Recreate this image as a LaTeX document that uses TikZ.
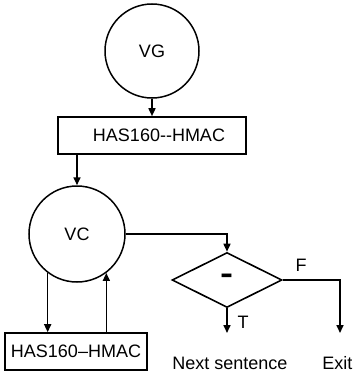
\documentclass[tikz,border=0pt]{standalone}
\usepackage{fontspec}
\setmainfont{Liberation Sans}
\usetikzlibrary{arrows.meta,shapes.geometric}

\begin{document}
\begin{tikzpicture}[x=1pt,y=1pt,
  every node/.style={font=\fontsize{18}{21}\selectfont},
  circ/.style={draw=black,circle,line width=1.5pt,inner sep=0pt,minimum size=#1},
  blk/.style={draw=black,line width=1.6pt,inner sep=0pt,minimum height=37pt,minimum width=#1},
  dec/.style={draw=black,diamond,line width=1.6pt,aspect=2,inner sep=0pt,minimum width=110pt,minimum height=55pt},
  ar/.style={-{Triangle[length=8pt,width=7pt]},line width=1.6pt}]
\useasboundingbox (0,0) rectangle (355,-372);
\node[circ=94pt] (vg) at (152,-51) {VG};
\node[blk=188pt] (h1) at (152,-135.5) {\hspace*{14pt}HAS160-{}-HMAC};
\node[circ=96pt] (vc) at (77,-234) {VC};
\node[dec] (cmp) at (227,-280) {\scalebox{1.1}[2]{\textbf{–}}};
\node[blk=142pt] (h2) at (76,-351.5) {HAS160–HMAC};
\coordinate (tend) at (227,-333);
\coordinate (fend) at (340,-333);
\node (next) at (230,-363) {Next sentence};
\node[anchor=east] (exit) at (356,-363) {Exit};
\node[anchor=west] (t) at (234,-322) {T};
\node (f) at (301,-265) {F};
\draw[ar] (vg) -- (h1);
\draw[ar] (h1.south -| vc.north) -- (vc.north);
\draw[ar] (vc.east) -| (cmp.north);
\draw[ar] (vc.233) -- (vc.233 |- h2.north);
\draw[ar] (vc.307 |- h2.north) -- (vc.307);
\draw[ar] (cmp.south) -- (tend);
\draw[ar] (cmp.east) -| (fend);
\end{tikzpicture}
\end{document}
